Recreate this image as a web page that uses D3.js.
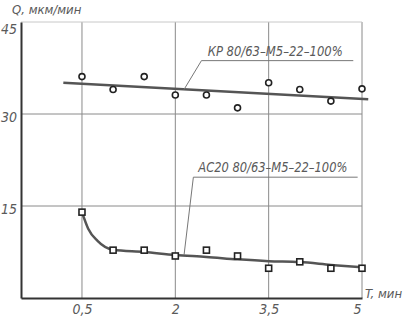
<!DOCTYPE html>
<html>
<head>
<meta charset="utf-8">
<script src="https://cdn.jsdelivr.net/npm/d3@7"></script>
<style>
  body { margin: 0; background: #fff; }
  text { font-family: "Liberation Sans Narrow", "DejaVu Sans Condensed", sans-serif; font-style: italic; fill: #5a5a5a; }
</style>
</head>
<body>
<div id="chart"></div>
<script>
// ---------- data ----------
var xTicks = [0.5, 2, 3.5, 5];
var yTicks = [15, 30, 45];

// КР 80/63 - points (circles)
var kpT = [0.5, 1, 1.5, 2, 2.5, 3, 3.5, 4, 4.5, 5];
var kpQ = [36.1, 34.0, 36.1, 33.1, 33.1, 31.0, 35.1, 34.0, 32.1, 34.1];
// trend line
var kpLineT = [0.2, 5.1];
var kpLineQ = [35.1, 32.4];

// АС20 80/63 - points (squares)
var acT = [0.5, 1, 1.5, 2, 2.5, 3, 3.5, 4, 4.5, 5];
var acQ = [14.0, 7.8, 7.8, 6.85, 7.8, 6.85, 4.85, 5.9, 4.85, 4.85];
// fitted curve
var acLineT = [0.5, 0.6, 0.75, 1, 1.5, 2, 2.5, 3, 3.5, 4, 4.5, 5];
var acLineQ = [14.0, 11.3, 9.3, 7.85, 7.5, 7.0, 6.7, 6.3, 6.0, 5.85, 5.4, 5.0];

var kpLabel = "КР 80/63–М5–22–100%";
var acLabel = "АС20 80/63–М5–22–100%";

////////////////basic layout//////////////////
var W = 404, H = 319;
var svg = d3.select("#chart").append("svg")
    .attr("width", W)
    .attr("height", H);

var x = d3.scaleLinear().domain([-0.48, 5]).range([21, 362]);
var y = d3.scaleLinear().domain([0, 45]).range([298, 22]);

// grid
svg.append("g").selectAll("line.vx")
    .data(xTicks).enter().append("line")
    .attr("x1", function(d) { return x(d); })
    .attr("x2", function(d) { return x(d); })
    .attr("y1", y(45)).attr("y2", y(0))
    .attr("stroke", "#8a8a8a").attr("stroke-width", 1);
svg.append("g").selectAll("line.hy")
    .data(yTicks).enter().append("line")
    .attr("x1", x(-0.48)).attr("x2", x(5))
    .attr("y1", function(d) { return y(d); })
    .attr("y2", function(d) { return y(d); })
    .attr("stroke", function(d) { return d == 45 ? "#c8c8c8" : "#8a8a8a"; })
    .attr("stroke-width", 1);

// axes
var fmt = function(d) { return String(d).replace(".", ","); };
var xAxis = svg.append("g")
    .attr("transform", "translate(0," + y(0) + ")")
    .call(d3.axisBottom(x).tickValues(xTicks).tickSize(0).tickPadding(6).tickFormat(fmt));
var yAxis = svg.append("g")
    .attr("transform", "translate(" + x(-0.48) + ",0)")
    .call(d3.axisLeft(y).tickValues(yTicks).tickSize(0).tickPadding(4).tickFormat(fmt));
[xAxis, yAxis].forEach(function(a) {
    a.select(".domain").attr("stroke", "#333").attr("stroke-width", 2);
    a.selectAll("text")
        .style("font-family", "'Liberation Sans Narrow', 'DejaVu Sans Condensed', sans-serif")
        .style("font-style", "italic")
        .attr("font-size", 14)
        .attr("fill", "#5a5a5a");
});
yAxis.selectAll("text").attr("dy", function(d) { return d == 45 ? "0.85em" : "0.55em"; });
xAxis.selectAll("text").attr("dx", function(d) { return d == 5 ? -5 : 0; });

// lines
var line = d3.line()
    .x(function(d) { return x(d[0]); })
    .y(function(d) { return y(d[1]); });

svg.append("path")
    .datum(d3.zip(kpLineT, kpLineQ))
    .attr("d", line)
    .attr("fill", "none").attr("stroke", "#555").attr("stroke-width", 2.5);

svg.append("path")
    .datum(d3.zip(acLineT, acLineQ))
    .attr("d", line.curve(d3.curveMonotoneX))
    .attr("fill", "none").attr("stroke", "#555").attr("stroke-width", 2.5);

// markers
svg.append("g").selectAll("circle")
    .data(d3.zip(kpT, kpQ)).enter().append("circle")
    .attr("cx", function(d) { return x(d[0]); })
    .attr("cy", function(d) { return y(d[1]); })
    .attr("r", 3)
    .attr("fill", "#fff").attr("stroke", "#222").attr("stroke-width", 1.6);

svg.append("g").selectAll("rect")
    .data(d3.zip(acT, acQ)).enter().append("rect")
    .attr("x", function(d) { return x(d[0]) - 3; })
    .attr("y", function(d) { return y(d[1]) - 3; })
    .attr("width", 6).attr("height", 6)
    .attr("fill", "#fff").attr("stroke", "#222").attr("stroke-width", 1.6);

// leaders + labels
function leader(ptT, ptQ, x0, x1, yq, textT, textQ, label, len) {
    svg.append("polyline")
        .attr("points", [[x(ptT), y(ptQ)], [x(x0), y(yq)], [x(x1), y(yq)]].join(" "))
        .attr("fill", "none").attr("stroke", "#777").attr("stroke-width", 1);
    svg.append("text")
        .attr("x", x(textT)).attr("y", y(textQ))
        .attr("font-size", 14)
        .attr("textLength", len).attr("lengthAdjust", "spacingAndGlyphs")
        .text(label);
}
leader(2.14, 34.0, 2.42, 4.86, 38.7, 2.52, 39.4, kpLabel, 135);
leader(2.14, 7.0, 2.29, 4.93, 19.7, 2.37, 20.6, acLabel, 149);

// axis titles
svg.append("text").attr("x", 12).attr("y", 14).attr("font-size", 13).text("Q, мкм/мин");
svg.append("text").attr("x", 365).attr("y", 298).attr("font-size", 13).text("T, мин");
</script>
</body>
</html>
